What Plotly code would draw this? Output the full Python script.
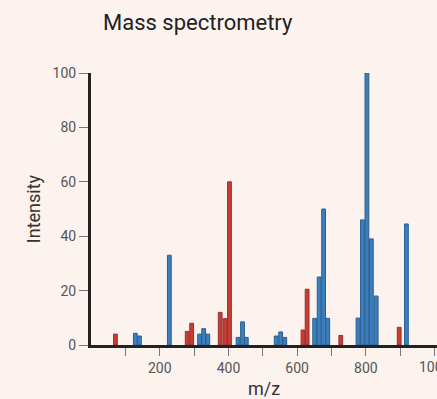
import plotly.graph_objects as go

# Data
red_mz = [71, 280, 293, 376, 390, 403, 617, 629, 727, 897]
red_int = [4, 5, 8, 12, 9.7, 60, 5.5, 20.5, 3.5, 6.5]
blue_mz = [129, 141, 228, 316, 328, 340, 428, 441, 452, 539, 552, 564,
           651, 664, 677, 689, 777, 790, 803, 816, 830, 918]
blue_int = [4.3, 3.3, 33, 4, 6, 4, 2.8, 8.5, 2.8, 3.3, 4.8, 2.8,
            9.8, 25, 50, 9.8, 9.9, 46, 100, 39, 18, 44.5]
x_ticks = [100, 200, 300, 400, 500, 600, 700, 800, 900, 1000]
x_labels = ["", "200", "", "400", "", "600", "", "800", "", "1000"]
y_ticks = [0, 20, 40, 60, 80, 100]

BG = "#fdf3ee"
fig = go.Figure()
fig.add_trace(go.Bar(x=red_mz, y=red_int, width=11,
                     marker=dict(color="#cc3a30", line=dict(color="#8e3434", width=1))))
fig.add_trace(go.Bar(x=blue_mz, y=blue_int, width=11,
                     marker=dict(color="#3b7fc0", line=dict(color="#2b5f8e", width=1))))

# last tick label, partly cut off by the page edge as in the reference
fig.add_annotation(x=1000, y=0, xref="x", yref="y", text="1000", showarrow=False,
                   xanchor="center", yanchor="top", yshift=-12,
                   font=dict(size=14, color="#555", family="Roboto"))

fig.update_layout(
    width=437, height=399,
    margin=dict(l=91, r=0, t=73, b=54),
    paper_bgcolor=BG, plot_bgcolor=BG,
    showlegend=False,
    barmode="overlay",
    font=dict(family="Roboto", color="#444", size=14),
    title=dict(text="Mass spectrometry", x=103/437, xanchor="left", xref="container",
               y=1 - 22/399, yanchor="middle", yref="container",
               font=dict(size=22, color="#222", family="Roboto")),
    xaxis=dict(range=[0, 1007], tickvals=x_ticks, ticktext=x_labels,
               showgrid=False, zeroline=False, showline=True, linecolor="#222", linewidth=2.5,
               ticks="outside", ticklen=8, tickwidth=1, tickcolor="#777",
               tickfont=dict(size=14, color="#555"),
               title=dict(text="m/z", font=dict(size=18, color="#333"), standoff=8)),
    yaxis=dict(range=[0, 100], tickvals=y_ticks,
               showgrid=False, zeroline=False, showline=True, linecolor="#222", linewidth=3,
               ticks="outside", ticklen=9, tickwidth=1, tickcolor="#777",
               tickfont=dict(size=14, color="#555"),
               title=dict(text="Intensity", font=dict(size=18, color="#333"), standoff=8)),
)
fig.write_html("out.html")
